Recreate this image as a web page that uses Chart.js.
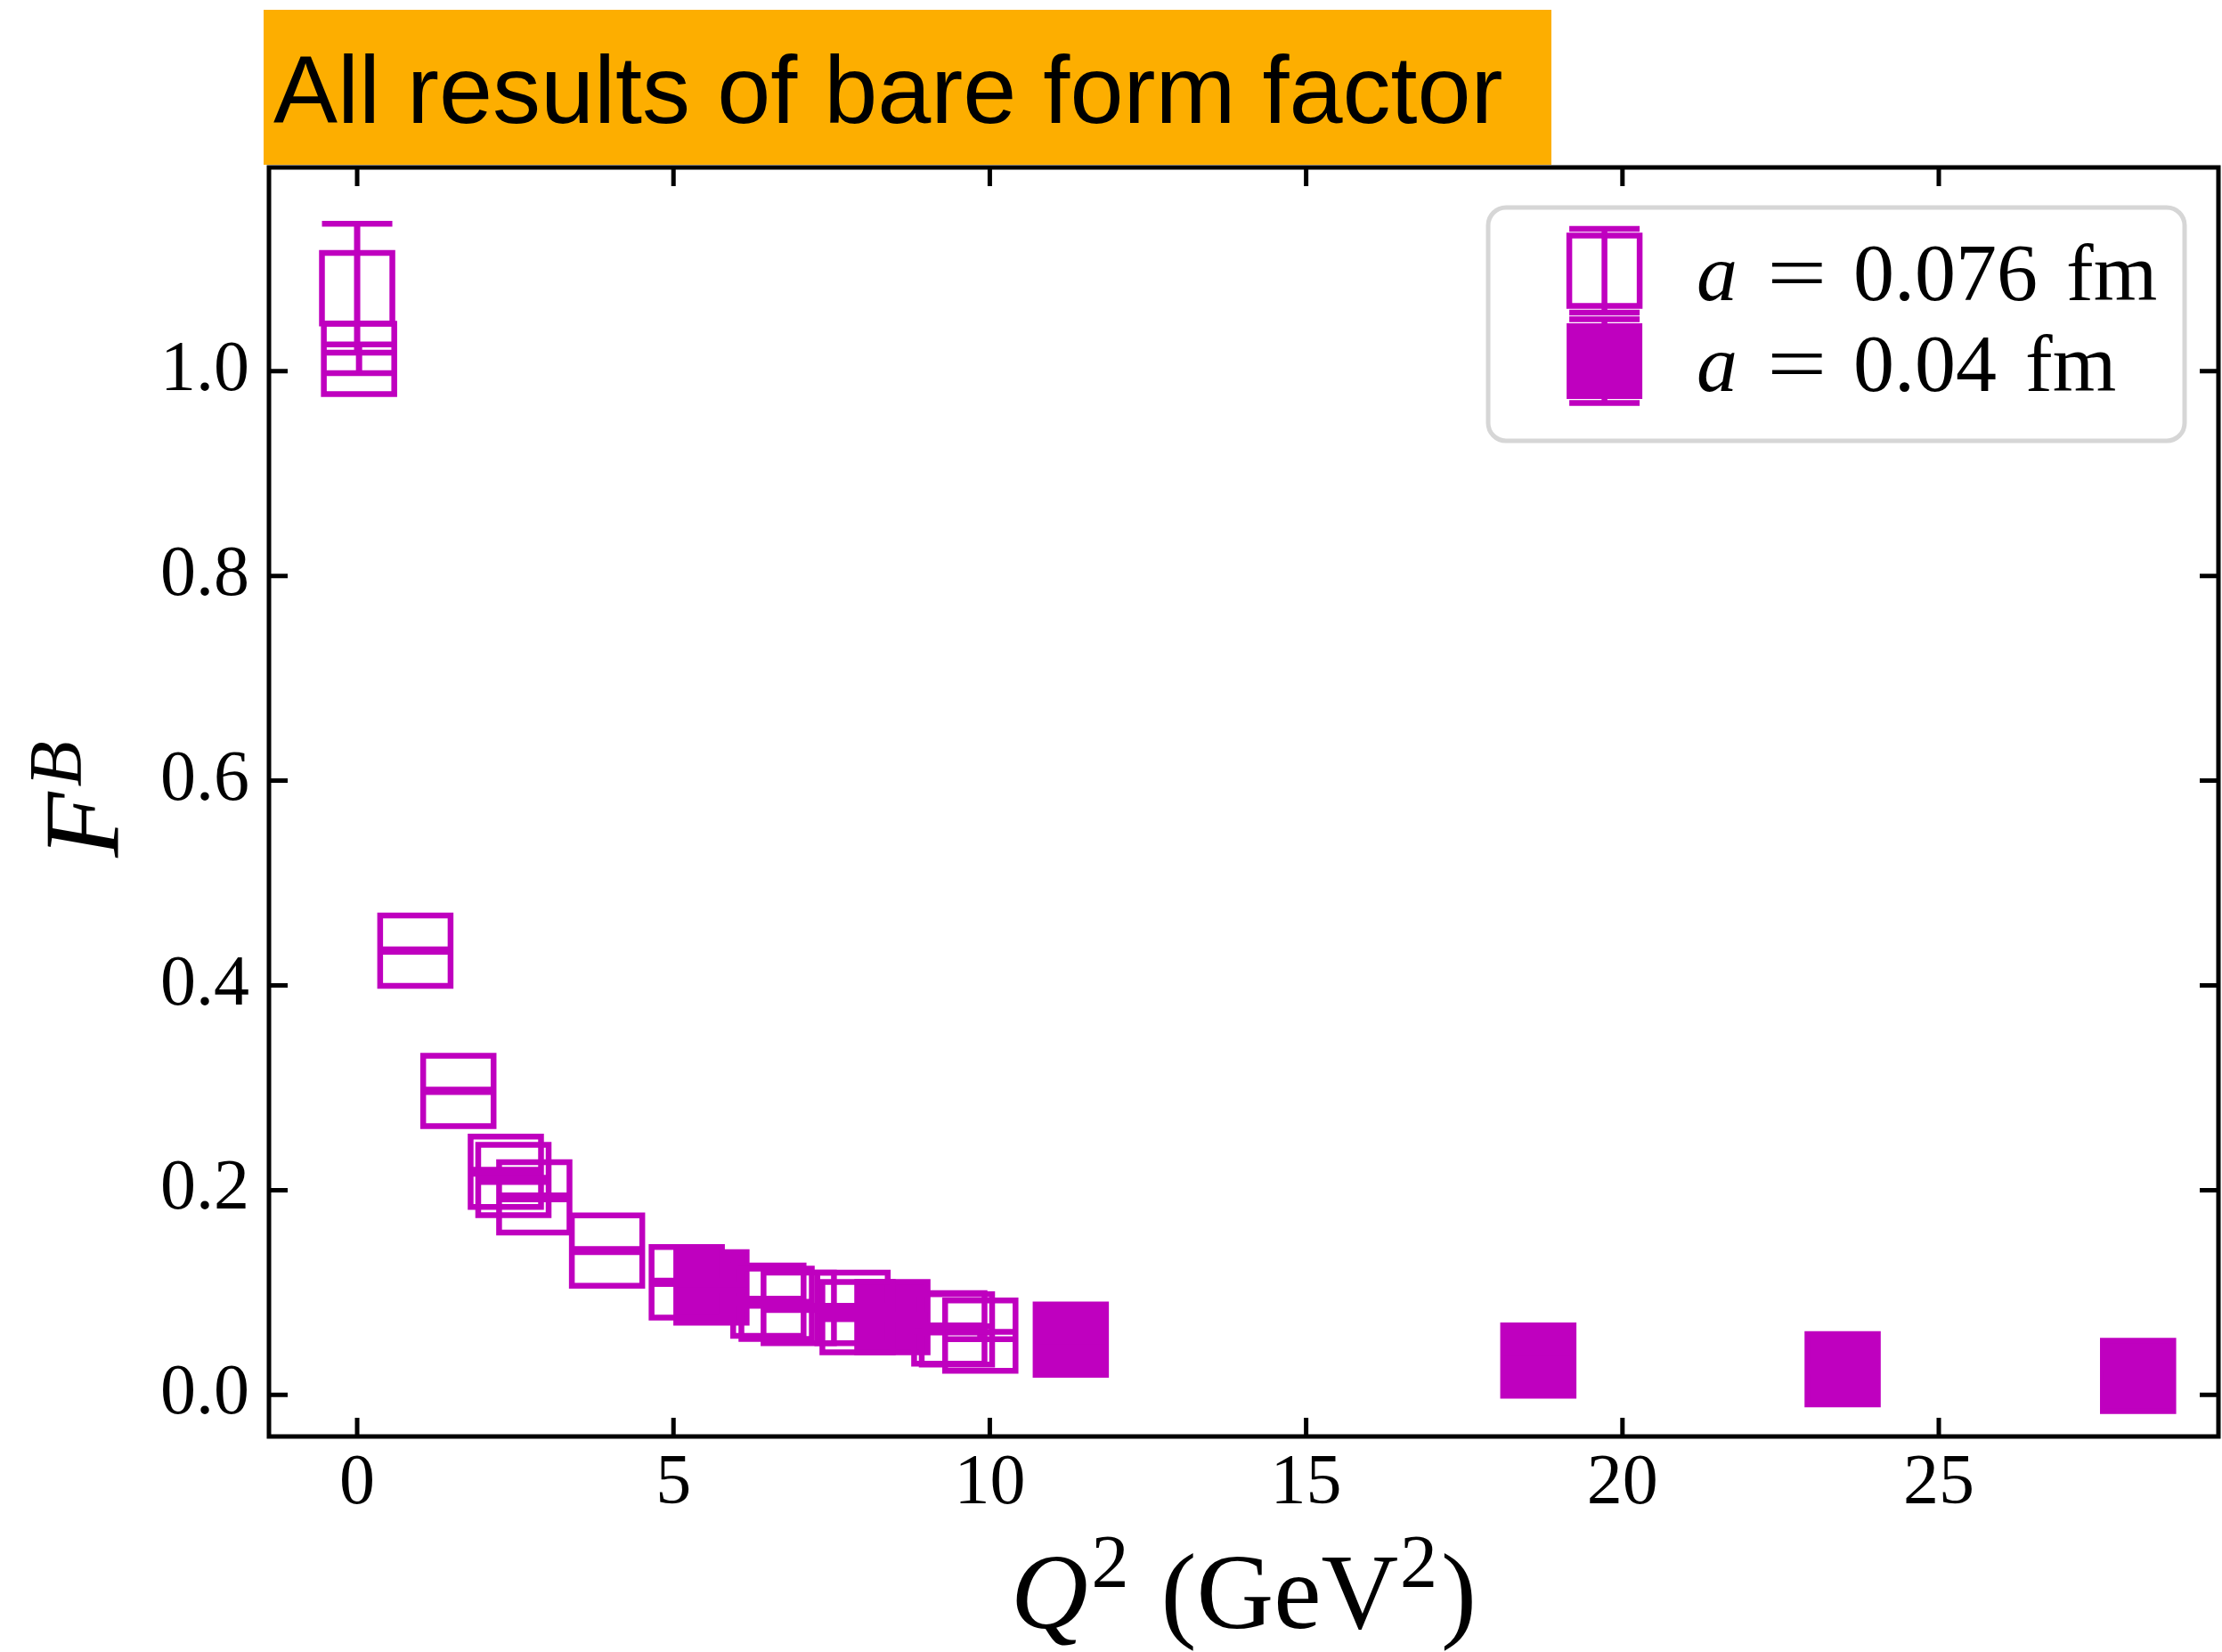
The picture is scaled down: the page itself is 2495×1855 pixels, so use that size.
<!DOCTYPE html>
<html>
<head>
<meta charset="utf-8">
<script src="https://cdn.jsdelivr.net/npm/chart.js@4.4.1/dist/chart.umd.min.js"></script>
<style>
body{margin:0;background:#fff;}
#wrap{position:relative;width:2495px;height:1855px;}
canvas{position:absolute;left:0;top:0;}
#title{position:absolute;left:296px;top:11px;width:1446px;height:174px;background:#fdae00;}
#title span{position:absolute;left:11px;top:36px;font:108px/1 "Liberation Sans",Arial,sans-serif;color:#000;white-space:nowrap;}
</style>
</head>
<body>
<div id="wrap">
<canvas id="c" width="2495" height="1855"></canvas>
<div id="title"><span>All results of bare form factor</span></div>
</div>
<script>
/* data */

// a = 0.076 fm (open squares)
const q2Coarse  = [0.00, 0.03, 0.92, 1.60, 2.35, 2.47, 2.80, 3.95, 5.21, 6.50, 6.63, 6.98, 7.83, 7.91, 9.36, 9.48, 9.85];
const fbCoarse  = [1.081, 1.012, 0.434, 0.297, 0.218, 0.210, 0.193, 0.141, 0.110, 0.092, 0.089, 0.085, 0.085, 0.076, 0.065, 0.064, 0.058];
const errCoarse = [0.063, 0.014, 0.0012, 0.0012, 0.002, 0.002, 0.002, 0.0015, 0.0017, 0.002, 0.002, 0.002, 0.002, 0.002, 0.003, 0.003, 0.0036];

// a = 0.04 fm (filled squares)
const q2Fine  = [5.60, 8.46, 11.28, 18.67, 23.48, 28.15];
const fbFine  = [0.105, 0.076, 0.054, 0.0335, 0.025, 0.0185];
const errFine = [0.003, 0.002, 0.002, 0.002, 0.002, 0.002];

const xTickValues = [0, 5, 10, 15, 20, 25];
const yTickValues = [0.0, 0.2, 0.4, 0.6, 0.8, 1.0];
const seriesLabels = ["0.076", "0.04"];

const magenta = "#bf00bf";
const serif = "'Liberation Serif', 'DejaVu Serif', serif";

function points(xs, ys, es)
{
    return xs.map((v, i) => ({ x: v, y: ys[i], err: es[i] }));
}

/* keep the plot frame where the original has it */
const fixArea = {
    id: "fixArea",
    afterLayout(chart)
    {
        const right = 2491;
        const xs = chart.scales.x;
        xs.right = right;
        xs.width = right - xs.left;
        xs.configure();
        chart.chartArea.right = right;
        chart.chartArea.width = right - chart.chartArea.left;
    }
};

function drawErrorBars(chart)
{
    const ctx = chart.ctx;
    const xs = chart.scales.x, ys = chart.scales.y;
    ctx.save();
    ctx.lineCap = "butt";
    ctx.strokeStyle = magenta;
    chart.data.datasets.forEach(ds => {
        ds.data.forEach(p => {
            const px = xs.getPixelForValue(p.x);
            const top = ys.getPixelForValue(p.y + p.err);
            const bot = ys.getPixelForValue(p.y - p.err);
            ctx.lineWidth = 7;
            ctx.beginPath();
            ctx.moveTo(px, top); ctx.lineTo(px, bot);
            ctx.stroke();
            ctx.lineWidth = 6.5;
            ctx.beginPath();
            ctx.moveTo(px - 39.5, top); ctx.lineTo(px + 39.5, top);
            ctx.moveTo(px - 39.5, bot); ctx.lineTo(px + 39.5, bot);
            ctx.stroke();
        });
    });
    ctx.restore();
}

/* error bars, frame, inward ticks on all sides, axis titles, legend */
const decorations = {
    id: "decorations",
    afterDraw(chart)
    {
        drawErrorBars(chart);

        const ctx = chart.ctx;
        const a = chart.chartArea;
        const xs = chart.scales.x, ys = chart.scales.y;
        ctx.save();
        ctx.strokeStyle = "#000";
        ctx.lineWidth = 5;
        ctx.strokeRect(a.left, a.top, a.right - a.left, a.bottom - a.top);
        ctx.beginPath();
        xTickValues.forEach(v => {
            const px = xs.getPixelForValue(v);
            ctx.moveTo(px, a.bottom); ctx.lineTo(px, a.bottom - 21);
            ctx.moveTo(px, a.top); ctx.lineTo(px, a.top + 21);
        });
        yTickValues.forEach(v => {
            const py = ys.getPixelForValue(v);
            ctx.moveTo(a.left, py); ctx.lineTo(a.left + 21, py);
            ctx.moveTo(a.right, py); ctx.lineTo(a.right - 21, py);
        });
        ctx.stroke();

        // x title: Q^2 (GeV^2)
        ctx.fillStyle = "#000";
        ctx.textBaseline = "alphabetic";
        const big = "120px " + serif, bigI = "italic 120px " + serif, sup = "84px " + serif;
        const parts = [
            { t: "Q", f: bigI, dy: 0, gap: 4 },
            { t: "2", f: sup, dy: -46, gap: 36 },
            { t: "(GeV", f: big, dy: 0, gap: 2 },
            { t: "2", f: sup, dy: -46, gap: 4 },
            { t: ")", f: big, dy: 0, gap: 0 }
        ];
        let total = 0;
        parts.forEach(p => { ctx.font = p.f; p.w = ctx.measureText(p.t).width; total += p.w + p.gap; });
        let cx = (a.left + a.right) / 2 - total / 2;
        parts.forEach(p => { ctx.font = p.f; ctx.fillText(p.t, cx, 1828 + p.dy); cx += p.w + p.gap; });

        // y title: F^B
        ctx.save();
        ctx.translate(133, (a.top + a.bottom) / 2);
        ctx.rotate(-Math.PI / 2);
        const yparts = [
            { t: "F", f: bigI, dy: 0 },
            { t: "B", f: "italic 84px " + serif, dy: -42 }
        ];
        total = 0;
        yparts.forEach(p => { ctx.font = p.f; p.w = ctx.measureText(p.t).width; total += p.w; });
        cx = -total / 2;
        yparts.forEach(p => { ctx.font = p.f; ctx.fillText(p.t, cx, p.dy); cx += p.w + 6; });
        ctx.restore();

        // legend
        const lx = 1671, ly = 233, lw = 782, lh = 262;
        ctx.beginPath();
        ctx.roundRect(lx, ly, lw, lh, 20);
        ctx.fillStyle = "rgba(255,255,255,0.85)";
        ctx.fill();
        ctx.strokeStyle = "#d6d6d6";
        ctx.lineWidth = 5;
        ctx.stroke();

        const mx = 1801.6;
        const rows = [{ y: 304, filled: false }, { y: 405.5, filled: true }];
        rows.forEach((r, i) => {
            ctx.strokeStyle = magenta;
            ctx.fillStyle = magenta;
            ctx.lineWidth = 6.5;
            if (r.filled) ctx.fillRect(mx - 42.5, r.y - 42.5, 85, 85);
            else ctx.strokeRect(mx - 39.5, r.y - 39.5, 79, 79);
            ctx.beginPath();
            ctx.moveTo(mx, r.y - 47); ctx.lineTo(mx, r.y + 47);
            ctx.moveTo(mx - 39.5, r.y - 47); ctx.lineTo(mx + 39.5, r.y - 47);
            ctx.moveTo(mx - 39.5, r.y + 47); ctx.lineTo(mx + 39.5, r.y + 47);
            ctx.stroke();

            const base = r.y + 33;
            ctx.fillStyle = "#000";
            ctx.font = "italic 92px " + serif;
            ctx.fillText("a", 1905, base);
            ctx.font = "92px " + serif;
            ctx.save();
            ctx.translate(1984, base);
            ctx.scale(1.3, 1);
            ctx.fillText("=", 0, 0);
            ctx.restore();
            ctx.fillText(seriesLabels[i], 2081, base);
            const nw = ctx.measureText(seriesLabels[i]).width;
            ctx.fillText("fm", 2081 + nw + 32, base);
        });
        ctx.restore();
    }
};

new Chart(document.getElementById("c"), {
    type: "scatter",
    data: {
        datasets: [
            {
                label: "a = 0.076 fm",
                data: points(q2Coarse, fbCoarse, errCoarse),
                pointStyle: "rect",
                pointRadius: 55.9,
                pointBorderWidth: 6.5,
                borderWidth: 6.5,
                borderColor: magenta,
                backgroundColor: "rgba(0,0,0,0)"
            },
            {
                label: "a = 0.04 fm",
                data: points(q2Fine, fbFine, errFine),
                pointStyle: "rect",
                pointRadius: 55.9,
                pointBorderWidth: 6.5,
                borderWidth: 6.5,
                borderColor: magenta,
                backgroundColor: magenta
            }
        ]
    },
    options: {
        responsive: false,
        animation: false,
        events: [],
        layout: { padding: { left: 0, top: 188, right: 4, bottom: 0 } },
        plugins: {
            legend: { display: false },
            tooltip: { enabled: false }
        },
        scales: {
            x: {
                type: "linear",
                min: -1.394,
                max: 29.42,
                afterBuildTicks: s => { s.ticks = xTickValues.map(v => ({ value: v })); },
                afterFit: s => { s.height = 242; s.paddingLeft = 0; s.paddingRight = 0; },
                grid: { display: false },
                border: { display: false },
                ticks: {
                    color: "#000",
                    padding: -2,
                    font: { family: serif, size: 80 },
                    callback: v => String(v)
                }
            },
            y: {
                type: "linear",
                min: -0.0406,
                max: 1.199,
                afterBuildTicks: s => { s.ticks = yTickValues.map(v => ({ value: v })); },
                afterFit: s => { s.width = 302; s.paddingTop = 0; s.paddingBottom = 0; },
                grid: { display: false },
                border: { display: false },
                ticks: {
                    color: "#000",
                    padding: 14,
                    font: { family: serif, size: 80 },
                    callback: v => v.toFixed(1)
                }
            }
        }
    },
    plugins: [fixArea, decorations]
});
</script>
</body>
</html>
